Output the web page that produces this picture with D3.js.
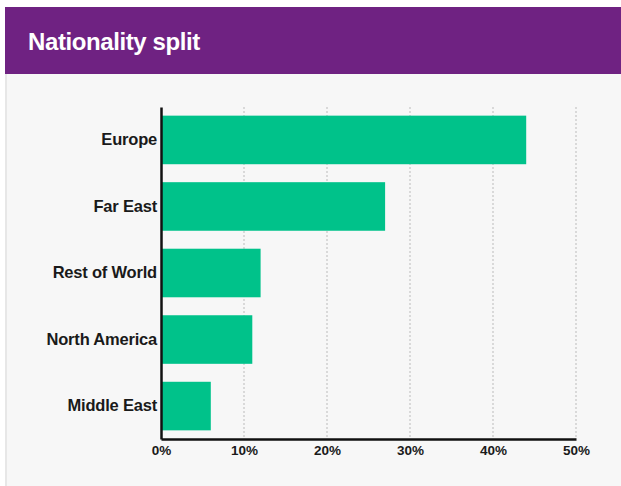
<!DOCTYPE html>
<html>
<head>
<meta charset="utf-8">
<script src="https://cdn.jsdelivr.net/npm/d3@7"></script>
<style>
  html, body { margin: 0; padding: 0; background: #ffffff; }
  svg { display: block; font-family: "Liberation Sans", Arial, sans-serif; }
</style>
</head>
<body>
<svg id="chart" width="621" height="486"></svg>
<script>
// Share of people by region of nationality (%)
const regions = ["Europe", "Far East", "Rest of World", "North America", "Middle East"];
const shares = [44, 27, 12, 11, 6];
const tickValues = [0, 10, 20, 30, 40, 50];
const title = "Nationality split";

(function draw() {
  const svg = d3.select("#chart");
  const W = 621, H = 486;

  // card background with a faint left border
  svg.append("rect").attr("x", 5).attr("y", 74).attr("width", W - 5).attr("height", H - 74)
    .attr("fill", "#f7f7f7");
  svg.append("line").attr("x1", 6).attr("x2", 6).attr("y1", 74).attr("y2", H)
    .attr("stroke", "#e2e2e2").attr("stroke-width", 1.5);

  // header band
  svg.append("rect").attr("x", 5).attr("y", 7).attr("width", W - 5).attr("height", 67)
    .attr("fill", "#6f2282");
  svg.append("text").attr("x", 28).attr("y", 50)
    .attr("fill", "#ffffff").attr("font-size", 24).attr("font-weight", 700)
    .attr("letter-spacing", -0.4)
    .text(title);

  const plotLeft = 161, plotRight = 576, plotTop = 107, plotBottom = 439;

  const x = d3.scaleLinear().domain([0, 50]).range([plotLeft, plotRight]);
  const y = d3.scaleBand().domain(regions).range([plotTop, plotBottom])
    .paddingInner(0.27).paddingOuter(0.13);

  // dotted vertical gridlines
  svg.append("g").selectAll("line").data(tickValues.filter(d => d > 0)).join("line")
    .attr("x1", d => x(d)).attr("x2", d => x(d))
    .attr("y1", plotTop).attr("y2", plotBottom)
    .attr("stroke", "#cfcfcf").attr("stroke-width", 1.5).attr("stroke-dasharray", "2,2");

  // bars
  svg.append("g").selectAll("rect").data(regions).join("rect")
    .attr("x", x(0)).attr("y", d => y(d))
    .attr("width", (d, i) => x(shares[i]) - x(0))
    .attr("height", y.bandwidth())
    .attr("fill", "#00c28a");

  // y axis
  const yAxis = svg.append("g").attr("transform", `translate(${plotLeft},0)`)
    .call(d3.axisLeft(y).tickSize(0).tickPadding(4));
  yAxis.select(".domain").attr("stroke", "#111").attr("stroke-width", 2.5);
  yAxis.selectAll("text").attr("font-size", 16.5).attr("font-weight", 700)
    .attr("fill", "#1a1a1a").attr("font-family", "Liberation Sans, Arial, sans-serif")
    .attr("letter-spacing", -0.2);

  // x axis
  const xAxis = svg.append("g").attr("transform", `translate(0,${plotBottom})`)
    .call(d3.axisBottom(x).tickValues(tickValues).tickSize(0).tickPadding(6)
      .tickFormat(d => d + "%"));
  xAxis.select(".domain").attr("stroke", "#111").attr("stroke-width", 2.5);
  xAxis.selectAll("text").attr("font-size", 13.5).attr("font-weight", 700)
    .attr("fill", "#1a1a1a").attr("font-family", "Liberation Sans, Arial, sans-serif");
})();
</script>
</body>
</html>
